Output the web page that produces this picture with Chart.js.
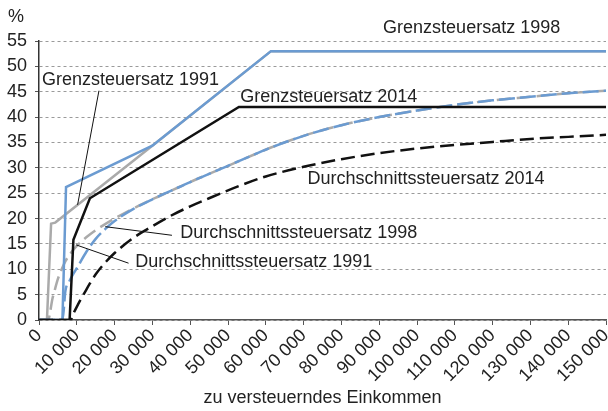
<!DOCTYPE html>
<html><head><meta charset="utf-8">
<script src="https://cdn.jsdelivr.net/npm/chart.js@4.4.0/dist/chart.umd.min.js"></script>
<style>html,body{margin:0;padding:0;background:#fff}</style>
</head><body>
<canvas id="c" width="608" height="411"></canvas>
<script>
// ---- data (income in EUR, rates in %) ----
const marg1991X = [0, 2100, 3200, 4300, 29984, 61377, 150000];
const marg1991Y = [0, 0, 19, 19.2, 34.35, 53, 53];
const marg1998X = [0, 6200, 7150, 29984, 61377, 150000];
const marg1998Y = [0, 0, 26.2, 34.35, 53, 53];
const marg2014X = [0, 8100, 9100, 13469, 52881, 150000];
const marg2014Y = [0, 0, 15.8, 24.0, 42, 42];

const avg1991X = [0, 2450, 3000, 3500, 4200, 5000, 6000, 7000, 8000, 10000, 12500, 15000, 17500, 20000, 25000, 30000, 35000, 40000, 45000, 50000, 55000, 61377, 70000, 80000, 90000, 100000, 110000, 120000, 130000, 140000, 150000];
const avg1991Y = [0, 0, 1.8, 4.0, 6.0, 8.1, 10.0, 11.6, 12.8, 14.6, 16.3, 17.7, 18.9, 20.0, 22.0, 23.8, 25.5, 27.2, 28.8, 30.4, 32.0, 34.0, 36.3, 38.4, 40.0, 41.3, 42.4, 43.3, 44.0, 44.7, 45.2];
const avg1998X = [0, 6200, 7000, 8000, 9000, 10000, 12500, 15000, 17500, 20000, 25000, 30000, 35000, 40000, 45000, 50000, 55000, 61377, 70000, 80000, 90000, 100000, 110000, 120000, 130000, 140000, 150000];
const avg1998Y = [0, 0, 5.8, 7.6, 9.0, 10.2, 13.4, 16.0, 17.9, 19.5, 21.9, 23.8, 25.5, 27.2, 28.8, 30.4, 32.0, 34.0, 36.3, 38.4, 40.0, 41.3, 42.4, 43.3, 44.0, 44.7, 45.2];
const avg2014X = [0, 8354, 9000, 10000, 11000, 12000, 13469, 15000, 17500, 20000, 25000, 30000, 35000, 40000, 45000, 52881, 60000, 70000, 80000, 90000, 100000, 110000, 120000, 130000, 140000, 150000];
const avg2014Y = [0, 0, 1.1, 2.6, 4.0, 5.3, 7.2, 9.0, 11.3, 13.2, 16.2, 18.5, 20.6, 22.4, 24.0, 26.4, 28.3, 30.2, 31.7, 32.9, 33.8, 34.5, 35.1, 35.7, 36.1, 36.5];

const xMin = 0, xMax = 150000, xStep = 10000;
const yMin = 0, yMax = 55, yStep = 5;

const seriesNames = ['Grenzsteuersatz 2014', 'Durchschnittssteuersatz 2014', 'Grenzsteuersatz 1998', 'Durchschnittssteuersatz 1998', 'Grenzsteuersatz 1991', 'Durchschnittssteuersatz 1991'];

// annotation labels (data coordinates)
const labelTexts = ['Grenzsteuersatz 1998', 'Grenzsteuersatz 1991', 'Grenzsteuersatz 2014', 'Durchschnittssteuersatz 2014', 'Durchschnittssteuersatz 1998', 'Durchschnittssteuersatz 1991'];
const labelAt = [[91030, 57.6], [790, 47.3], [53230, 44.0], [71020, 27.8], [37360, 17.1], [25460, 11.5]];
const leaders = [[[15860, 45.2], [10206, 22.7]], [[35170, 16.7], [17530, 18.4]], [[23690, 11.2], [9860, 14.8]]];

const BLUE = '#6b9bd1', GRAY = '#aaaaaa', BLACK = '#111111';
const pts = (xs, ys) => xs.map((v, i) => ({x: v, y: ys[i]}));

Chart.defaults.font.family = '"Liberation Sans", Arial, Helvetica, sans-serif';
Chart.defaults.font.size = 18;
Chart.defaults.color = '#222';

const annot = {
  id: 'annot',
  afterDraw(chart) {
    const {ctx, scales: {x, y}} = chart;
    ctx.save();
    ctx.font = '18px "Liberation Sans", Arial, Helvetica, sans-serif';
    ctx.fillStyle = '#222';
    ctx.textBaseline = 'middle';
    ctx.textAlign = 'left';
    labelTexts.forEach((t, i) => {
      ctx.fillText(t, x.getPixelForValue(labelAt[i][0]), y.getPixelForValue(labelAt[i][1]));
    });
    ctx.fillText('%', 8, 17);
    ctx.strokeStyle = '#111';
    ctx.lineWidth = 1;
    leaders.forEach(l => {
      ctx.beginPath();
      ctx.moveTo(x.getPixelForValue(l[0][0]), y.getPixelForValue(l[0][1]));
      ctx.lineTo(x.getPixelForValue(l[1][0]), y.getPixelForValue(l[1][1]));
      ctx.stroke();
    });
    ctx.restore();
  }
};

const solid = (label, data, color) => ({label, data, borderColor: color, borderWidth: 2.5, pointRadius: 0, tension: 0, fill: false});
const dashed = (label, data, color, dash) => ({label, data, borderColor: color, borderWidth: 2.5, pointRadius: 0, cubicInterpolationMode: 'monotone', borderDash: dash, fill: false});

new Chart(document.getElementById('c'), {
  type: 'line',
  data: {
    datasets: [
      solid(seriesNames[0], pts(marg2014X, marg2014Y), BLACK),
      dashed(seriesNames[1], pts(avg2014X, avg2014Y), BLACK, [14, 6]),
      solid(seriesNames[2], pts(marg1998X, marg1998Y), BLUE),
      dashed(seriesNames[3], pts(avg1998X, avg1998Y), BLUE, [16, 5]),
      solid(seriesNames[4], pts(marg1991X, marg1991Y), GRAY),
      dashed(seriesNames[5], pts(avg1991X, avg1991Y), GRAY, [14, 6])
    ]
  },
  options: {
    responsive: false,
    animation: false,
    devicePixelRatio: 1,
    layout: {padding: {left: 6, right: 2, top: 41, bottom: 2}},
    plugins: {legend: {display: false}, tooltip: {enabled: false}},
    scales: {
      x: {
        type: 'linear', min: xMin, max: xMax,
        afterFit(s) { s.height = 89; s.paddingLeft = 0; s.paddingRight = 0; },
        ticks: {
          stepSize: xStep, autoSkip: false, maxRotation: 45, minRotation: 45, padding: 0,
          callback: v => v === 0 ? '0' : (v / 1000) + ' 000'
        },
        grid: {display: true, drawOnChartArea: false, drawTicks: true, tickLength: 5, tickColor: '#555'},
        border: {display: true, color: '#555', width: 1.5},
        title: {display: true, text: 'zu versteuerndes Einkommen', padding: {top: 4, bottom: 0}}
      },
      y: {
        min: yMin, max: yMax,
        afterFit(s) { s.width = 33; },
        ticks: {stepSize: yStep, padding: 8},
        grid: {color: '#9a9a9a', lineWidth: 1, tickLength: 4, tickColor: '#555'},
        border: {display: true, color: '#333', width: 1.5, dash: [3, 3]}
      }
    }
  },
  plugins: [annot]
});
</script>
</body></html>
